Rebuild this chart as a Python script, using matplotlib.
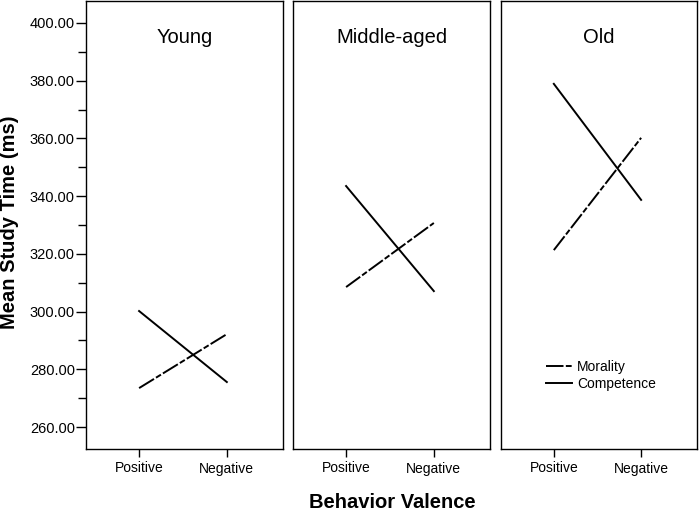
import matplotlib
matplotlib.use("Agg")
import matplotlib.pyplot as plt
from matplotlib.ticker import MultipleLocator, FormatStrFormatter

plt.rcParams['font.family'] = ['Liberation Sans', 'DejaVu Sans']

groups = ["Young", "Middle-aged", "Old"]
valence = ["Positive", "Negative"]
morality = [[273.5, 292.2], [308.5, 330.7], [321.3, 360.2]]
competence = [[300.2, 275.6], [343.5, 307.1], [378.9, 338.7]]

W, H = 699, 514
fig = plt.figure(figsize=(W / 100, H / 100), dpi=100)

panels_px = [(86, 283), (293, 490), (501, 697)]
top_px, bot_px = 1, 449
ylim = (252.4, 407.6)
xlim = (-0.605, 1.64)
lw = 1.4
dash = (0, (9.0, 1.2, 3.0, 1.2))

axes = []
for i, (x0, x1) in enumerate(panels_px):
    ax = fig.add_axes([x0 / W, 1 - bot_px / H, (x1 - x0) / W, (bot_px - top_px) / H])
    axes.append(ax)
    xs = [0, 1]
    lm, = ax.plot(xs, morality[i], color='black', lw=lw, linestyle=dash)
    lc, = ax.plot(xs, competence[i], color='black', lw=lw)
    ax.set_xlim(*xlim)
    ax.set_ylim(*ylim)
    ax.set_xticks(xs)
    ax.set_xticklabels(valence, fontsize=10)
    ax.tick_params(axis='x', direction='out', length=6, width=1, pad=3)
    for s in ax.spines.values():
        s.set_linewidth(1.0)
    ax.text(0.5, 1 - (43 - top_px) / (bot_px - top_px), groups[i], transform=ax.transAxes,
            ha='center', va='baseline', fontsize=14.5)
    if i == 0:
        ax.yaxis.set_major_locator(MultipleLocator(20))
        ax.yaxis.set_minor_locator(MultipleLocator(10))
        ax.yaxis.set_major_formatter(FormatStrFormatter('%.2f'))
        ax.tick_params(axis='y', which='major', direction='out', length=7, width=1,
                       labelsize=10.5, pad=1)
        ax.tick_params(axis='y', which='minor', direction='out', length=5.5, width=1)
    else:
        ax.set_yticks([])
    if i == 2:
        ax.legend([lm, lc], ["Morality", "Competence"], loc='upper left',
                  bbox_to_anchor=(0.23, 0.199), frameon=False, fontsize=10,
                  handlelength=1.87, handletextpad=0.36, labelspacing=0.25,
                  borderaxespad=0, borderpad=0)

fig.text(10 / W, 1 - 222 / H, "Mean Study Time (ms)", rotation=90, ha='center', va='center',
         fontsize=14.5, fontweight='bold')
fig.text(392 / W, 1 - 503 / H, "Behavior Valence", ha='center', va='center',
         fontsize=14.5, fontweight='bold')

fig.savefig("out.png", dpi=100)
